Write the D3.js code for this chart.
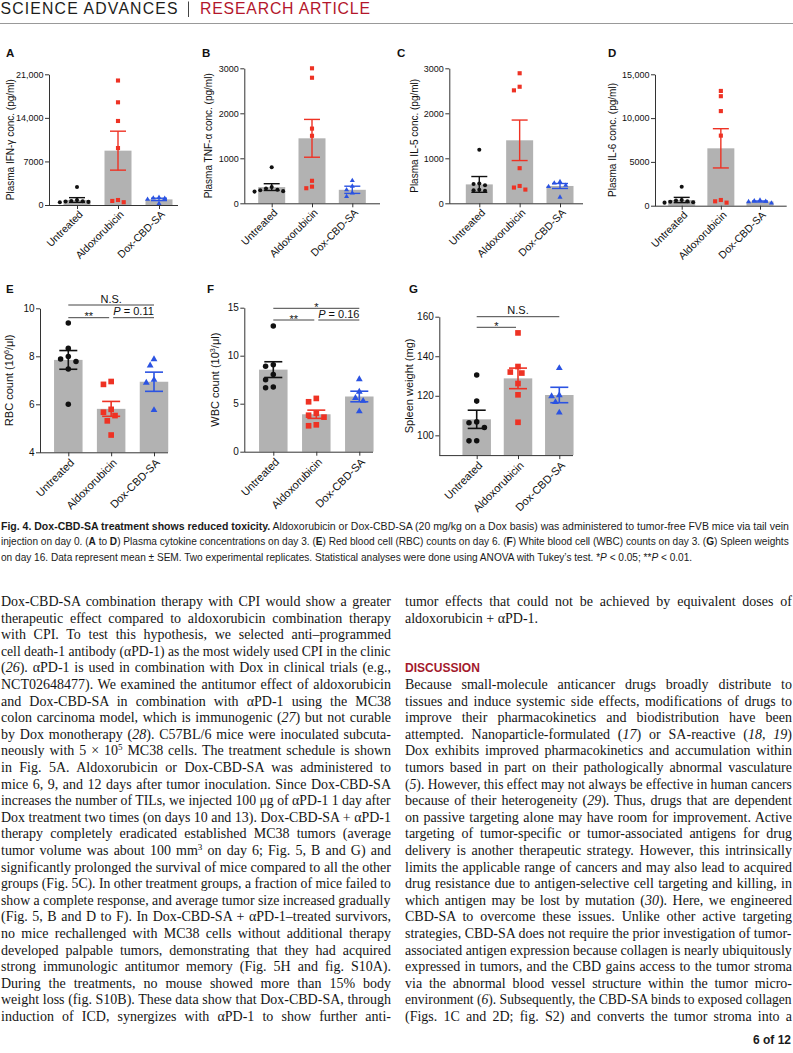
<!DOCTYPE html>
<html><head><meta charset="utf-8">
<script src="https://cdn.jsdelivr.net/npm/d3@7"></script>
<style>
html,body{margin:0;padding:0;background:#fff;}
svg{display:block;}
</style></head><body>
<svg id="page" width="793" height="1053"></svg>
<script>
// ---------------- DATA ----------------
const categories = ["Untreated", "Aldoxorubicin", "Dox-CBD-SA"];

// A: Plasma IFN-γ (pg/ml)
const ifnTicks = [0, 7000, 14000, 21000];
const ifnMean = [800, 8730, 900];
const ifnSem = [380, 3130, 190];
const ifnUntreated = [2900, 800, 650, 600, 550, 500, 450];
const ifnAldox = [20000, 16500, 13500, 9150, 800, 650, 450];
const ifnDoxCbd = [1200, 1100, 1050, 900, 250];

// B: Plasma TNF-α (pg/ml)
const tnfTicks = [0, 1000, 2000, 3000];
const tnfMean = [360, 1444, 300];
const tnfSem = [75, 420, 80];
const tnfUntreated = [800, 360, 330, 300, 290, 270, 260];
const tnfAldox = [3000, 2790, 1660, 1500, 500, 370, 335];
const tnfDoxCbd = [505, 380, 300, 230, 150];

// C: Plasma IL-5 (pg/ml)
const il5Ticks = [0, 1000, 2000, 3000];
const il5Mean = [420, 1400, 385];
const il5Sem = [175, 450, 55];
const il5Untreated = [1190, 440, 430, 400, 300, 290, 280];
const il5Aldox = [2890, 2590, 2510, 780, 385, 350, 305];
const il5DoxCbd = [480, 450, 400, 370, 135];

// D: Plasma IL-6 (pg/ml)
const il6Ticks = [0, 5000, 10000, 15000];
const il6Mean = [650, 6550, 480];
const il6Sem = [300, 2240, 60];
const il6Untreated = [2170, 650, 600, 500, 450, 400, 350];
const il6Aldox = [13100, 12500, 10800, 8000, 650, 500, 350];
const il6DoxCbd = [620, 560, 500, 450, 300];

// E: RBC count (10^6/µl)
const rbcTicks = [4, 6, 8, 10];
const rbcMean = [7.85, 5.81, 6.94];
const rbcSem = [0.39, 0.31, 0.40];
const rbcUntreated = [9.39, 8.33, 7.99, 7.89, 7.78, 7.47, 6.0];
const rbcAldox = [6.95, 6.83, 5.79, 5.67, 5.53, 5.31, 4.72];
const rbcDoxCbd = [7.88, 7.62, 7.02, 6.9, 5.76];
const rbcSig = [{a: 0, b: 2, label: "N.S."}, {a: 0, b: 1, label: "**"}, {a: 1, b: 2, label: "P = 0.11"}];

// F: WBC count (10^3/µl)
const wbcTicks = [0, 5, 10, 15];
const wbcMean = [8.55, 3.9, 5.75];
const wbcSem = [0.82, 0.43, 0.55];
const wbcUntreated = [13.1, 9.05, 8.9, 8.05, 7.5, 6.75, 6.65];
const wbcAldox = [5.55, 5.2, 4.0, 3.8, 3.6, 2.8, 2.7];
const wbcDoxCbd = [7.55, 6.25, 5.6, 5.3, 4.2];
const wbcSig = [{a: 0, b: 2, label: "*"}, {a: 0, b: 1, label: "**"}, {a: 1, b: 2, label: "P = 0.16"}];

// G: Spleen weight (mg)
const spleenTicks = [100, 120, 140, 160];
const spleenMean = [108.1, 128.8, 120.4];
const spleenSem = [4.6, 5.2, 3.9];
const spleenUntreated = [130.5, 117.3, 106.8, 106.4, 104.0, 97.3, 97.2];
const spleenAldox = [151.8, 134.8, 132.0, 131.5, 126.2, 120.5, 106.6];
const spleenDoxCbd = [134.0, 120.3, 119.8, 116.8, 111.5];
const spleenSig = [{a: 0, b: 2, label: "N.S."}, {a: 0, b: 1, label: "*"}];

// Texts
const headerLeft = "SCIENCE ADVANCES";
const headerRight = "RESEARCH ARTICLE";
const captionLines = [
  "<b>Fig. 4. Dox-CBD-SA treatment shows reduced toxicity.</b> Aldoxorubicin or Dox-CBD-SA (20 mg/kg on a Dox basis) was administered to tumor-free FVB mice via tail vein",
  "injection on day 0. (<b>A</b> to <b>D</b>) Plasma cytokine concentrations on day 3. (<b>E</b>) Red blood cell (RBC) counts on day 6. (<b>F</b>) White blood cell (WBC) counts on day 3. (<b>G</b>) Spleen weights",
  "on day 16. Data represent mean ± SEM. Two experimental replicates. Statistical analyses were done using ANOVA with Tukey’s test. *<i>P</i> &lt; 0.05; **<i>P</i> &lt; 0.01."
];
const leftColumn = [
  "Dox-CBD-SA combination therapy with CPI would show a greater",
  "therapeutic effect compared to aldoxorubicin combination therapy",
  "with CPI. To test this hypothesis, we selected anti–programmed",
  "cell death-1 antibody (αPD-1) as the most widely used CPI in the clinic",
  "(<i>26</i>). αPD-1 is used in combination with Dox in clinical trials (e.g.,",
  "NCT02648477). We examined the antitumor effect of aldoxorubicin",
  "and Dox-CBD-SA in combination with αPD-1 using the MC38",
  "colon carcinoma model, which is immunogenic (<i>27</i>) but not curable",
  "by Dox monotherapy (<i>28</i>). C57BL/6 mice were inoculated subcuta-",
  "neously with 5 × 10<sup>5</sup> MC38 cells. The treatment schedule is shown",
  "in Fig. 5A. Aldoxorubicin or Dox-CBD-SA was administered to",
  "mice 6, 9, and 12 days after tumor inoculation. Since Dox-CBD-SA",
  "increases the number of TILs, we injected 100 μg of αPD-1 1 day after",
  "Dox treatment two times (on days 10 and 13). Dox-CBD-SA + αPD-1",
  "therapy completely eradicated established MC38 tumors (average",
  "tumor volume was about 100 mm<sup>3</sup> on day 6; Fig. 5, B and G) and",
  "significantly prolonged the survival of mice compared to all the other",
  "groups (Fig. 5C). In other treatment groups, a fraction of mice failed to",
  "show a complete response, and average tumor size increased gradually",
  "(Fig. 5, B and D to F). In Dox-CBD-SA + αPD-1–treated survivors,",
  "no mice rechallenged with MC38 cells without additional therapy",
  "developed palpable tumors, demonstrating that they had acquired",
  "strong immunologic antitumor memory (Fig. 5H and fig. S10A).",
  "During the treatments, no mouse showed more than 15% body",
  "weight loss (fig. S10B). These data show that Dox-CBD-SA, through",
  "induction of ICD, synergizes with αPD-1 to show further anti-"
];
const rightColumnTop = [
  "tumor effects that could not be achieved by equivalent doses of",
  "aldoxorubicin + αPD-1."
];
const discussionTitle = "DISCUSSION";
const rightColumn = [
  "Because small-molecule anticancer drugs broadly distribute to",
  "tissues and induce systemic side effects, modifications of drugs to",
  "improve their pharmacokinetics and biodistribution have been",
  "attempted. Nanoparticle-formulated (<i>17</i>) or SA-reactive (<i>18</i>, <i>19</i>)",
  "Dox exhibits improved pharmacokinetics and accumulation within",
  "tumors based in part on their pathologically abnormal vasculature",
  "(<i>5</i>). However, this effect may not always be effective in human cancers",
  "because of their heterogeneity (<i>29</i>). Thus, drugs that are dependent",
  "on passive targeting alone may have room for improvement. Active",
  "targeting of tumor-specific or tumor-associated antigens for drug",
  "delivery is another therapeutic strategy. However, this intrinsically",
  "limits the applicable range of cancers and may also lead to acquired",
  "drug resistance due to antigen-selective cell targeting and killing, in",
  "which antigen may be lost by mutation (<i>30</i>). Here, we engineered",
  "CBD-SA to overcome these issues. Unlike other active targeting",
  "strategies, CBD-SA does not require the prior investigation of tumor-",
  "associated antigen expression because collagen is nearly ubiquitously",
  "expressed in tumors, and the CBD gains access to the tumor stroma",
  "via the abnormal blood vessel structure within the tumor micro-",
  "environment (<i>6</i>). Subsequently, the CBD-SA binds to exposed collagen",
  "(Figs. 1C and 2D; fig. S2) and converts the tumor stroma into a"
];
const pageNumber = "6 of 12";

// ---------------- DRAWING ----------------
const svg = d3.select("#page");
const SANS = "'Liberation Sans', Arial, Helvetica, sans-serif";
const NARROW = "'Liberation Sans Narrow', 'Liberation Sans', Arial, sans-serif";
const SERIF = "'Liberation Serif', 'Times New Roman', serif";
const RED = "#ee3224", BLUE = "#2b53e2", BLACK = "#111111", BAR = "#b2b2b2", AXIS = "#333";
const colors = [BLACK, RED, BLUE];
const symbols = [d3.symbolCircle, d3.symbolSquare, d3.symbolTriangle];

function fmtTick(v) { return Math.abs(v) >= 10000 ? d3.format(",")(v) : String(v); }

function swarm(ys, D) {
  const order = ys.map((y, i) => ({y, i})).sort((a, b) => a.y - b.y);
  const placed = [];
  const step = D * 0.55;
  order.forEach(o => {
    for (let k = 0; k < 60; k++) {
      const m = Math.ceil(k / 2) * (k % 2 ? -1 : 1);
      const dx = m * step;
      if (placed.every(p => Math.hypot(p.dx - dx, p.y - o.y) >= D)) { placed.push({y: o.y, dx}); break; }
    }
  });
  return placed;
}

// text line built at origin, positioned with a transform
function richText(parent, x, y, str, o) {
  const t = parent.append("text").attr("x", 0).attr("y", 0)
    .attr("transform", `translate(${x},${y})`)
    .attr("font-family", o.family).attr("font-size", o.size).attr("fill", o.fill || "#151515")
    .style("white-space", "pre");
  t.datum({x, y});
  if (o.anchor) t.attr("text-anchor", o.anchor);
  const decoded = str.replace(/&lt;/g, "\u0001");
  const parts = decoded.split(/(<\/?(?:i|b|sup)>)/).filter(s => s.length);
  let it = false, bd = false, sp = false, pending = 0;
  parts.forEach(s => {
    if (s === "<i>") it = true;
    else if (s === "</i>") it = false;
    else if (s === "<b>") bd = true;
    else if (s === "</b>") bd = false;
    else if (s === "<sup>") sp = true;
    else if (s === "</sup>") { sp = false; pending = o.size * 0.38; }
    else {
      const ts = t.append("tspan").text(s.replace(/\u0001/g, "<"));
      if (it) ts.attr("font-style", "italic");
      if (bd) ts.attr("font-weight", "bold");
      if (sp) ts.attr("font-size", o.size * 0.65).attr("dy", -o.size * 0.38);
      else if (pending) { ts.attr("dy", pending); pending = 0; }
    }
  });
  return t;
}

function scaleX(t, k) {
  const d = t.datum();
  t.attr("transform", `translate(${d.x},${d.y}) scale(${k},1)`);
}

// justify: widen word gaps, or condense horizontally if too long
function fitLine(t, width, justify) {
  const node = t.node();
  const nat = node.getComputedTextLength();
  const spaces = (node.textContent.match(/ /g) || []).length;
  if (justify && nat <= width && spaces) t.attr("word-spacing", (width - nat) / spaces);
  else if (nat > width) scaleX(t, width / nat);
  return nat;
}

// Header
const hdr = svg.append("g");
hdr.append("text").attr("x", 0.5).attr("y", 14.3).attr("font-family", SANS).attr("font-size", 15.8)
  .attr("fill", "#1d1d1b").attr("textLength", 177).attr("lengthAdjust", "spacing").text(headerLeft);
hdr.append("line").attr("x1", 188.5).attr("x2", 188.5).attr("y1", 1.5).attr("y2", 17).attr("stroke", "#444").attr("stroke-width", 1);
hdr.append("text").attr("x", 200).attr("y", 14.3).attr("font-family", SANS).attr("font-size", 15.8)
  .attr("fill", "#b3162b").attr("textLength", 170).attr("lengthAdjust", "spacing").text(headerRight);
hdr.append("line").attr("x1", 0).attr("x2", 793).attr("y1", 23.5).attr("y2", 23.5).attr("stroke", "#999").attr("stroke-width", 1.2);

// Panels
const small = {barW: 27, capW: 16, ebW: 1.4, markerD: 5.2, symSize: [13, 17, 11], tickFont: 9, catFont: 10.5, ylFont: 10, labDx: 6.5, labDy: 10};
const big = {barW: 28.5, capW: 18, ebW: 1.6, markerD: 7, symSize: [24, 32, 20], tickFont: 10, catFont: 11, ylFont: 11, labDx: 6.5, labDy: 11};

const panels = [
  Object.assign({}, small, {letter: "A", lx: 6, ly: 57, ax: 49, xEnd: 178, xRange: [77, 159], yRange: [205, 74.3], domain: [0, 21000], ticks: ifnTicks,
    means: ifnMean, sems: ifnSem, points: [ifnUntreated, ifnAldox, ifnDoxCbd], ylx: 14, yLabel: [{t: "Plasma IFN-γ conc. (pg/ml)"}]}),
  Object.assign({}, small, {letter: "B", lx: 202, ly: 57, ax: 244.3, xEnd: 380, xRange: [271.7, 352.3], yRange: [203.3, 68.3], domain: [0, 3000], ticks: tnfTicks,
    means: tnfMean, sems: tnfSem, points: [tnfUntreated, tnfAldox, tnfDoxCbd], ylx: 211.5, yLabel: [{t: "Plasma TNF-α conc. (pg/ml)"}]}),
  Object.assign({}, small, {letter: "C", lx: 397, ly: 57, ax: 449.3, xEnd: 583, xRange: [479.3, 560], yRange: [203.3, 68.3], domain: [0, 3000], ticks: il5Ticks,
    means: il5Mean, sems: il5Sem, points: [il5Untreated, il5Aldox, il5DoxCbd], ylx: 418, yLabel: [{t: "Plasma IL-5 conc. (pg/ml)"}]}),
  Object.assign({}, small, {letter: "D", lx: 608, ly: 57, ax: 655, xEnd: 786.7, xRange: [681.7, 760], yRange: [205.7, 74.3], domain: [0, 15000], ticks: il6Ticks,
    means: il6Mean, sems: il6Sem, points: [il6Untreated, il6Aldox, il6DoxCbd], ylx: 616, yLabel: [{t: "Plasma IL-6 conc. (pg/ml)"}]}),
  Object.assign({}, big, {letter: "E", lx: 6, ly: 293, ax: 40, xEnd: 168, xRange: [68.3, 154], yRange: [452.3, 308.3], domain: [4, 10], ticks: rbcTicks,
    means: rbcMean, sems: rbcSem, points: [rbcUntreated, rbcAldox, rbcDoxCbd], ylx: 13, sig: rbcSig, sigRows: [305, 317.7],
    yLabel: [{t: "RBC count (10"}, {t: "6", sup: true}, {t: "/μl)"}]}),
  Object.assign({}, big, {letter: "F", lx: 207, ly: 293, ax: 244.3, xEnd: 373, xRange: [273.3, 359.3], yRange: [451.7, 307.7], domain: [0, 15], ticks: wbcTicks,
    means: wbcMean, sems: wbcSem, points: [wbcUntreated, wbcAldox, wbcDoxCbd], ylx: 219, sig: wbcSig, sigRows: [308.3, 320],
    yLabel: [{t: "WBC count (10"}, {t: "3", sup: true}, {t: "/μl)"}]}),
  Object.assign({}, big, {letter: "G", lx: 409, ly: 293, ax: 439.3, xEnd: 573, xRange: [476.7, 559.3], yRange: [455.1, 316.7], domain: [90, 160], ticks: spleenTicks,
    means: spleenMean, sems: spleenSem, points: [spleenUntreated, spleenAldox, spleenDoxCbd], ylx: 413, sig: spleenSig, sigRows: [316.7, 327.3],
    yLabel: [{t: "Spleen weight (mg)"}]})
];

function drawPanel(p) {
  const g = svg.append("g");
  const y = d3.scaleLinear().domain(p.domain).range(p.yRange);
  const x = d3.scalePoint().domain(categories).range(p.xRange);
  const base = y(p.domain[0]);

  // bars
  g.selectAll(null).data(p.means).join("rect")
    .attr("x", (d, i) => x(categories[i]) - p.barW / 2)
    .attr("y", d => y(d)).attr("width", p.barW)
    .attr("height", d => base - y(d)).attr("fill", BAR);

  // points
  p.points.forEach((vals, i) => {
    const cx = x(categories[i]);
    const placed = swarm(vals.map(v => y(v)), p.markerD);
    g.selectAll(null).data(placed).join("path")
      .attr("transform", d => `translate(${cx + d.dx},${d.y})`)
      .attr("d", d3.symbol(symbols[i], p.symSize[i]))
      .attr("fill", colors[i]);
  });

  // error bars (mean ± SEM)
  p.means.forEach((m, i) => {
    const cx = x(categories[i]), s = p.sems[i];
    const eb = g.append("g").attr("stroke", colors[i]).attr("stroke-width", p.ebW).attr("fill", "none");
    eb.append("line").attr("x1", cx).attr("x2", cx).attr("y1", y(m + s)).attr("y2", y(m - s));
    [m + s, m - s].forEach(v => eb.append("line").attr("x1", cx - p.capW / 2).attr("x2", cx + p.capW / 2).attr("y1", y(v)).attr("y2", y(v)));
  });

  // y axis
  const ya = g.append("g").attr("transform", `translate(${p.ax},0)`)
    .call(d3.axisLeft(y).tickValues(p.ticks).tickFormat(fmtTick).tickSize(4).tickSizeOuter(0).tickPadding(1.5));
  ya.attr("font-family", SANS).attr("font-size", p.tickFont);
  ya.select(".domain").attr("stroke", AXIS);
  ya.selectAll(".tick line").attr("stroke", AXIS);
  ya.selectAll(".tick text").attr("fill", "#111");

  // x axis
  const xa = g.append("g").attr("transform", `translate(0,${base})`)
    .call(d3.axisBottom(x).tickSize(4).tickFormat(""));
  xa.select(".domain").remove();
  xa.selectAll(".tick line").attr("stroke", AXIS);
  g.append("line").attr("x1", p.ax).attr("x2", p.xEnd).attr("y1", base + 0.5).attr("y2", base + 0.5).attr("stroke", AXIS);

  g.selectAll(null).data(categories).join("text")
    .attr("transform", d => `translate(${x(d) + p.labDx},${base + p.labDy}) rotate(-45)`)
    .attr("text-anchor", "end").attr("font-family", SANS).attr("font-size", p.catFont).attr("fill", "#111")
    .text(d => d);

  // y label
  const yl = g.append("text")
    .attr("transform", `translate(${p.ylx},${(p.yRange[0] + p.yRange[1]) / 2}) rotate(-90)`)
    .attr("text-anchor", "middle").attr("font-family", SANS).attr("font-size", p.ylFont).attr("fill", "#111");
  let pend = 0;
  p.yLabel.forEach(seg => {
    const ts = yl.append("tspan").text(seg.t);
    if (seg.sup) { ts.attr("font-size", p.ylFont * 0.65).attr("dy", -p.ylFont * 0.38); pend = p.ylFont * 0.38; }
    else if (pend) { ts.attr("dy", pend); pend = 0; }
  });

  // panel letter
  svg.append("text").attr("x", p.lx).attr("y", p.ly).attr("font-family", SANS).attr("font-weight", "bold")
    .attr("font-size", 11.5).attr("fill", "#111").text(p.letter);

  // significance brackets
  if (p.sig) p.sig.forEach(s => {
    const row = (s.b - s.a === 2) ? 0 : 1;
    const ly = p.sigRows[row];
    let x1 = x(categories[s.a]), x2 = x(categories[s.b]);
    if (row === 1) { if (s.a === 1) x1 += 2; else x2 -= 2; }
    g.append("line").attr("x1", x1).attr("x2", x2).attr("y1", ly).attr("y2", ly).attr("stroke", "#444").attr("stroke-width", 1);
    const star = s.label.startsWith("*");
    const t = g.append("text").attr("x", (x1 + x2) / 2).attr("y", star ? ly + 2.5 : ly - 2.5)
      .attr("text-anchor", "middle").attr("font-family", SANS).attr("font-size", 11).attr("fill", "#111");
    if (s.label.startsWith("P")) {
      t.append("tspan").attr("font-style", "italic").text("P");
      t.append("tspan").text(s.label.slice(1));
    } else t.text(s.label);
  });
}
panels.forEach(drawPanel);

// Caption
const cap = svg.append("g");
const capY = [529.5, 545, 560.5];
let capRatio = 1;
captionLines.forEach((line, i) => {
  const t = richText(cap, 1, capY[i], line, {family: NARROW, size: 11, fill: "#1a1a1a"});
  if (i < 2) {
    const nat = fitLine(t, 789, true);
    if (i === 1) capRatio = Math.min(1, 789 / nat);
  } else if (capRatio < 1) scaleX(t, capRatio);
});

// Body text
const body = svg.append("g");
const lineY0 = 606, lineStep = 16.6;
const leftX = 1, leftW = 390, rightX = 405, rightW = 387;
leftColumn.forEach((line, i) => {
  const t = richText(body, leftX, lineY0 + i * lineStep, line, {family: SERIF, size: 14});
  fitLine(t, leftW, true);
});
rightColumnTop.forEach((line, i) => {
  const t = richText(body, rightX, lineY0 + i * lineStep, line, {family: SERIF, size: 14});
  fitLine(t, rightW, i === 0);
});
const disc = richText(body, rightX, lineY0 + 4 * lineStep, discussionTitle, {family: SANS, size: 12.5, fill: "#a3192c"});
disc.attr("font-weight", "bold");
scaleX(disc, 75 / disc.node().getComputedTextLength());
rightColumn.forEach((line, i) => {
  const t = richText(body, rightX, lineY0 + (i + 5) * lineStep, line, {family: SERIF, size: 14});
  fitLine(t, rightW, true);
});

// Page number
svg.append("text").attr("x", 791).attr("y", 1044).attr("text-anchor", "end").attr("font-family", NARROW)
  .attr("font-weight", "bold").attr("font-size", 12).attr("fill", "#1a1a1a").text(pageNumber);
</script>
</body></html>
